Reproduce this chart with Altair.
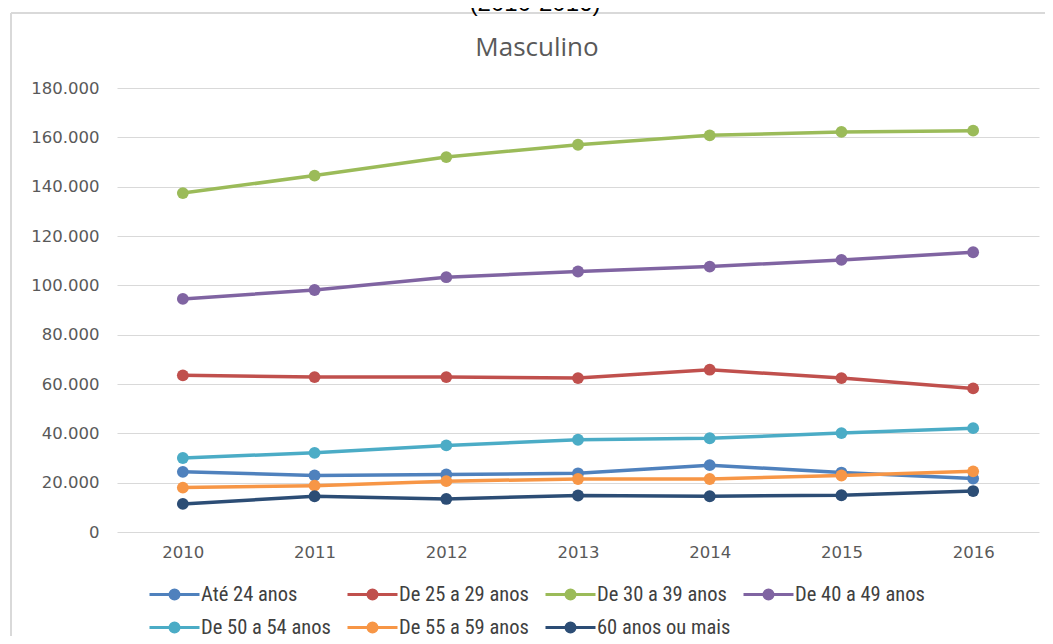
import altair as alt
import pandas as pd

years = ["2010", "2011", "2012", "2013", "2014", "2015", "2016"]
series = ["Até 24 anos", "De 25 a 29 anos", "De 30 a 39 anos", "De 40 a 49 anos",
          "De 50 a 54 anos", "De 55 a 59 anos", "60 anos ou mais"]
colors = ["#4F81BD", "#C0504D", "#9BBB59", "#8064A2", "#4BACC6", "#F79646", "#2C4D75"]

ate24 = [24400, 22900, 23300, 23800, 27100, 24100, 21700]
de25_29 = [63500, 62800, 62800, 62400, 65800, 62400, 58200]
de30_39 = [137400, 144500, 152000, 157000, 160800, 162200, 162700]
de40_49 = [94500, 98100, 103300, 105600, 107600, 110300, 113400]
de50_54 = [30000, 32100, 35100, 37400, 38000, 40100, 42100]
de55_59 = [18000, 18800, 20600, 21500, 21500, 22900, 24600]
de60 = [11400, 14500, 13400, 14800, 14500, 14900, 16600]

y_ticks = [0, 20000, 40000, 60000, 80000, 100000, 120000, 140000, 160000, 180000]
chart_title = ["Masculino"]
top_title = ["(2010-2016)"]

values = [ate24, de25_29, de30_39, de40_49, de50_54, de55_59, de60]
rows = []
for s, vals in zip(series, values):
    for yr, v in zip(years, vals):
        rows.append({"ano": yr, "serie": s, "valor": v})
df = pd.DataFrame(rows)

legend_path = "M-2.5,0H2.5M-0.45,0A0.45,0.45,0,1,1,0.45,0A0.45,0.45,0,1,1,-0.45,0Z"
legend_font = "Liberation Sans Narrow, Roboto Condensed, DejaVu Sans Condensed, Liberation Sans"


def make_legend():
    return alt.Legend(
        title=None, orient="none", legendX=31, legendY=495, columns=4,
        direction="horizontal", gridAlign="all", padding=0,
        symbolType=legend_path, symbolSize=400, symbolStrokeWidth=3, symbolOffset=15,
        labelFont=legend_font, labelFontSize=20.5, labelColor="#404040",
        labelOffset=15, columnPadding=6, rowPadding=11, labelLimit=300,
    )


x_enc = alt.X("ano:O", scale=alt.Scale(domain=years, padding=0.5),
              axis=alt.Axis(title=None, labelAngle=0, domain=False, ticks=False, tickSize=0,
                            grid=False, labelFont="DejaVu Sans", labelFontSize=16.5,
                            labelColor="#595959", labelPadding=12))
y_enc = alt.Y("valor:Q", scale=alt.Scale(domain=[0, 180000], nice=False),
              axis=alt.Axis(title=None, values=y_ticks, domain=False, ticks=False, tickSize=0,
                            grid=True, gridColor="#d9d9d9", gridWidth=1,
                            labelFont="DejaVu Sans", labelFontSize=16.5, labelColor="#595959",
                            labelPadding=18,
                            labelExpr="replace(format(datum.value, ','), ',', '.')"))

lines = alt.Chart(df).mark_line(strokeWidth=3.5).encode(
    x=x_enc, y=y_enc,
    stroke=alt.Stroke("serie:N", scale=alt.Scale(domain=series, range=colors), legend=make_legend()),
)
points = alt.Chart(df).mark_point(filled=True, size=140, opacity=1).encode(
    x=x_enc, y=y_enc,
    fill=alt.Fill("serie:N", scale=alt.Scale(domain=series, range=colors), legend=make_legend()),
)

title_df = pd.DataFrame({"t": chart_title})
title_txt = alt.Chart(title_df).mark_text(
    font="Open Sans", fontSize=26, color="#595959", align="center", baseline="middle"
).encode(text="t:N", x=alt.value(420), y=alt.value(-40))

top_df = pd.DataFrame({"t": top_title})
top_txt = alt.Chart(top_df).mark_text(
    font="Liberation Sans", fontSize=24, color="#000000", align="center", baseline="alphabetic"
).encode(text="t:N", x=alt.value(418), y=alt.value(-77))

border_left = alt.Chart(title_df).mark_rule(color="#d9d9d9", strokeWidth=2).encode(
    x=alt.value(-106), y=alt.value(-75), y2=alt.value(620))
border_top = alt.Chart(title_df).mark_rule(color="#d9d9d9", strokeWidth=2).encode(
    x=alt.value(-106), x2=alt.value(940), y=alt.value(-75))

chart = alt.layer(border_left, border_top, top_txt, title_txt, lines, points).properties(
    width=922, height=444,
    autosize=alt.AutoSizeParams(type="none"),
    padding={"left": 109, "top": 80, "right": 6, "bottom": 104},
).configure_view(stroke=None)

chart.save("out.html", embed_options={"renderer": "svg", "actions": False})
